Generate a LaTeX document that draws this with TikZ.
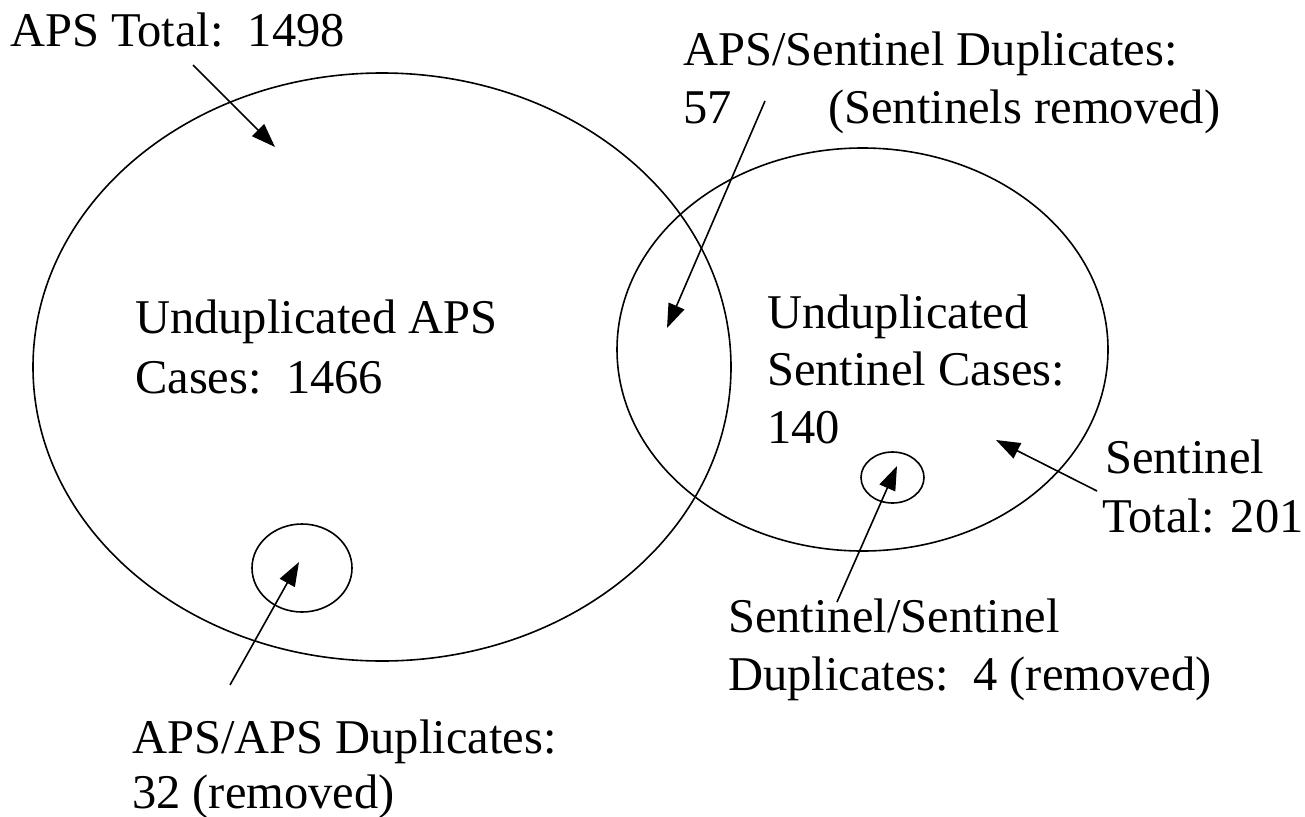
\documentclass[tikz,border=0pt]{standalone}
\usepackage{fontspec}
\setmainfont{Liberation Serif}
\usetikzlibrary{arrows.meta,shapes.geometric}
\begin{document}
\begin{tikzpicture}[x=1pt,y=-1pt,
  lbl/.style={anchor=base west,inner sep=0pt,font=\fontsize{48.5}{58}\selectfont},
  ring/.style={draw,ellipse,inner sep=0pt,line width=1.6pt},
  ptr/.style={line width=1.6pt,-{Triangle[length=24pt,width=17pt]}}]
\useasboundingbox (0,0) rectangle (1305,816);

% sets
\node[ring,minimum width=698pt,minimum height=588pt] (aps) at (382,367) {};
\node[ring,minimum width=491pt,minimum height=403pt] (sen) at (862.5,349.5) {};
\node[ring,minimum width=100pt,minimum height=88pt] (apsdup) at (302,568) {};
\node[ring,minimum width=63pt,minimum height=51pt] (sendup) at (892.5,477.5) {};

% labels
\node[lbl] (apstot) at (10,47) {APS Total:\ \ 1498};
\node[lbl] (asd1) at (683,65) {APS/Sentinel Duplicates:};
\node[lbl] (asd2) at (683,123) {57};
\node[lbl] (asd3) at (828,123) {(Sentinels removed)};
\node[lbl] (ua1) at (135,333) {Unduplicated APS};
\node[lbl] (ua2) at (135,393) {Cases:\ \ 1466};
\node[lbl] (us1) at (767,328) {Unduplicated};
\node[lbl] (us2) at (767,385) {Sentinel Cases:};
\node[lbl] (us3) at (767,443) {140};
\node[lbl] (st1) at (1105,473) {Sentinel};
\node[lbl] (st2) at (1102,532) {Total: 201};
\node[lbl] (ssd1) at (728,632) {Sentinel/Sentinel};
\node[lbl] (ssd2) at (728,690) {Duplicates:\ \ 4 (removed)};
\node[lbl] (aad1) at (132,753) {APS/APS Duplicates:};
\node[lbl] (aad2) at (132,808) {32 (removed)};

% arrow end points
\coordinate (t1) at (193,65);   \coordinate (h1) at (275,147);
\coordinate (t2) at (765,101);  \coordinate (h2) at (667,328);
\coordinate (t3) at (1097,491); \coordinate (h3) at (996,440);
\coordinate (t4) at (837,602);  \coordinate (h4) at (897,466);
\coordinate (t5) at (230,685);  \coordinate (h5) at (299,562);

\draw[ptr] (t1) -- (h1);
\draw[ptr] (t2) -- (h2);
\draw[ptr] (t3) -- (h3);
\draw[ptr] (t4) -- (h4);
\draw[ptr] (t5) -- (h5);
\end{tikzpicture}
\end{document}
